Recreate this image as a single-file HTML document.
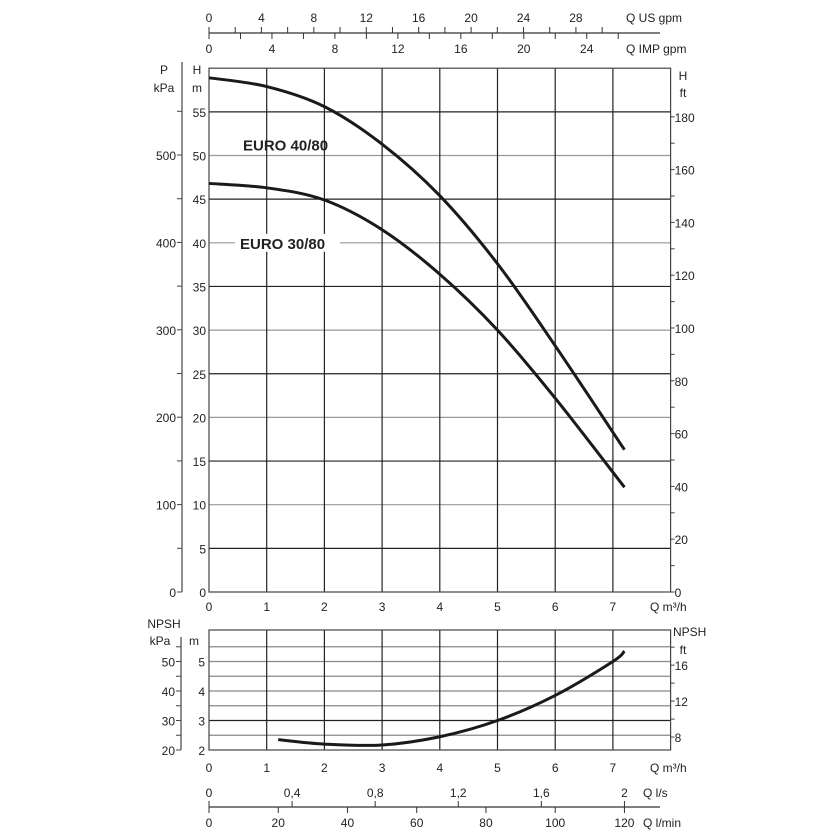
<!DOCTYPE html>
<html><head><meta charset="utf-8">
<style>
html,body{margin:0;padding:0;background:#fff;}
svg{display:block;font-family:"Liberation Sans",Arial,sans-serif;}
</style></head>
<body>
<svg id="chart" width="840" height="840" viewBox="0 0 840 840"></svg>
<script>
// ---- data ----
const qTicks = [0,1,2,3,4,5,6,7];
const hTicks = [0,5,10,15,20,25,30,35,40,45,50,55];
const pTicks = [0,100,200,300,400,500];
const ftTicks = [0,20,40,60,80,100,120,140,160,180];
const usgpmTicks = [0,4,8,12,16,20,24,28];
const impgpmTicks = [0,4,8,12,16,20,24];
const lsTicks = [0,0.4,0.8,1.2,1.6,2];
const lsLabels = ["0","0,4","0,8","1,2","1,6","2"];
const lminTicks = [0,20,40,60,80,100,120];
const npshTicks = [2,3,4,5];
const npshKpaTicks = [20,30,40,50];
const npshFtTicks = [8,12,16];
const q40 = [0,1,2,3,4,5,6,7.2];
const h40 = [58.9,57.9,55.6,51.3,45.4,37.6,28.2,16.3];
const q30 = [0,1,2,3,4,5,6,7.2];
const h30 = [46.8,46.3,44.9,41.5,36.4,30.0,22.2,12.0];
const qNpsh = [1.2,2,3,4,5,6,7,7.2];
const npsh = [2.35,2.2,2.17,2.45,3.0,3.85,5.0,5.35];

// ---- scales ----
const X0=209, XU=57.7;
const x = q => X0 + q*XU;
const yH = h => 592 - h*8.73;
const yP = p => 592 - p*0.874;
const yFt = f => 592 - f*2.64;
const yN = m => 750 - (m-2)*29.5;
const yNk = k => 750 - (k-20)*2.95;
const yNf = f => 750 - (f*0.3048-2)*29.5;

const svg = document.getElementById('chart');
const NS='http://www.w3.org/2000/svg';
function mk(tag, attrs, parent){
  const e=document.createElementNS(NS,tag);
  for(const k in attrs) e.setAttribute(k,attrs[k]);
  (parent||svg).appendChild(e); return e;
}
function line(x1,y1,x2,y2,stroke,w,name){
  const e=mk('line',{x1,y1,x2,y2,stroke,'stroke-width':w});
  
  
  return e;
}
function text(tx,tx_,ty,anchor,size,name,weight){
  const e=mk('text',{x:tx_,y:ty,'text-anchor':anchor||'middle','font-size':size||12,fill:'#222'});
  if(weight) e.setAttribute('font-weight',weight);
  e.textContent=tx;
  
  
  return e;
}
function smooth(xs,ys){
  const p=xs.map((v,i)=>[v,ys[i]]);
  let d='M'+p[0][0]+','+p[0][1];
  for(let i=0;i<p.length-1;i++){
    const p0=p[i-1]||p[i],p1=p[i],p2=p[i+1],p3=p[i+2]||p2;
    const c1=[p1[0]+(p2[0]-p0[0])/6,p1[1]+(p2[1]-p0[1])/6];
    const c2=[p2[0]-(p3[0]-p1[0])/6,p2[1]-(p3[1]-p1[1])/6];
    d+=` C${c1[0]},${c1[1]} ${c2[0]},${c2[1]} ${p2[0]},${p2[1]}`;
  }
  return d;
}
const XR = x(8);

// ---- main plot grid ----
hTicks.forEach((h,i)=>{ if(h>0) line(X0,yH(h),XR,yH(h), h%10===0?'#999':'#222',1.2,'h-gridline'); });
qTicks.forEach(q=>{ if(q>0) line(x(q),yH(60),x(q),yH(0),'#222',1.2,'q-gridline'); });
const fr=mk('rect',{x:X0,y:yH(60),width:XR-X0,height:yH(0)-yH(60),fill:'none',stroke:'#444','stroke-width':1.2});


hTicks.forEach(h=>text(String(h),0,yH(h)+5,'end',12,'h-tick-label').setAttribute('x',X0-3));
text('H',0,74,'middle',12,'h-axis-title').setAttribute('x',197);
text('m',0,92,'middle',12,'h-axis-unit').setAttribute('x',197);
qTicks.forEach(q=>text(String(q),0,611,'middle',12,'q-tick-label').setAttribute('x',x(q)));
text('Q m³/h',0,611,'start',12,'q-axis-title').setAttribute('x',650);
// P kPa axis
line(182,yP(0),182,62,'#444',1.2,'p-axis-line');
for(let p=0;p<=550;p+=50) line(177,yP(p),182,yP(p),'#444',1,'p-tick');
pTicks.forEach(p=>text(String(p),0,yP(p)+5,'end',12,'p-tick-label').setAttribute('x',176));
text('P',0,74,'middle',12,'p-axis-title').setAttribute('x',164);
text('kPa',0,92,'middle',12,'p-axis-unit').setAttribute('x',164);
// ft axis
for(let f=0;f<=180;f+=10) line(XR,yFt(f),XR+4,yFt(f),'#444',1,'ft-tick');
ftTicks.forEach(f=>text(String(f),0,yFt(f)+5,'start',12,'ft-tick-label').setAttribute('x',XR+4));
text('H',0,80,'middle',12,'ft-axis-title').setAttribute('x',683);
text('ft',0,97,'middle',12,'ft-axis-unit').setAttribute('x',683);

// ---- top axes ----
line(X0,33,660,33,'#333',1.2,'gpm-axis-line');
for(let g=0;g<=30;g+=2) line(x(g/4.403),27,x(g/4.403),33,'#333',1,'usgpm-tick');
for(let g=0;g<=26;g+=2) line(x(g/3.666),33,x(g/3.666),39,'#333',1,'impgpm-tick');
usgpmTicks.forEach(g=>text(String(g),0,22,'middle',12,'usgpm-tick-label').setAttribute('x',x(g/4.403)));
impgpmTicks.forEach(g=>text(String(g),0,53,'middle',12,'impgpm-tick-label').setAttribute('x',x(g/3.666)));
text('Q US gpm',0,22,'start',12,'usgpm-axis-title').setAttribute('x',626);
text('Q IMP gpm',0,53,'start',12,'impgpm-axis-title').setAttribute('x',626);

// ---- curves ----
const c40=mk('path',{d:smooth(q40.map(x),h40.map(yH)),fill:'none',stroke:'#1a1a1a','stroke-width':3});


const c30=mk('path',{d:smooth(q30.map(x),h30.map(yH)),fill:'none',stroke:'#1a1a1a','stroke-width':3});


text('EURO 40/80',0,yH(50)-5,'start',15,'label-euro-40-80','bold').setAttribute('x',243);
const b2=mk('rect',{x:235,y:yH(40)-9,width:105,height:18,fill:'#fff'});

text('EURO 30/80',0,yH(40)+6,'start',15,'label-euro-30-80','bold').setAttribute('x',240);

// ---- NPSH plot ----
for(let m=2.5;m<=5.5;m+=0.5) line(X0,yN(m),XR,yN(m), m===3?'#222':'#888',1.2,'npsh-gridline');
qTicks.forEach(q=>{ if(q>0) line(x(q),630,x(q),yN(2),'#222',1.2,'npsh-q-gridline'); });
const fr2=mk('rect',{x:X0,y:630,width:XR-X0,height:yN(2)-630,fill:'none',stroke:'#444','stroke-width':1.2});


npshTicks.forEach(m=>text(String(m),0,yN(m)+5,'end',12,'npsh-m-tick-label').setAttribute('x',X0-4));
text('m',0,645,'middle',12,'npsh-m-unit').setAttribute('x',194);
text('NPSH',0,628,'middle',12,'npsh-axis-title').setAttribute('x',164);
text('kPa',0,645,'middle',12,'npsh-kpa-unit').setAttribute('x',160);
line(181,yNk(20),181,637,'#444',1.2,'npsh-kpa-axis-line');
for(let k=20;k<=55;k+=5) line(176,yNk(k),181,yNk(k),'#444',1,'npsh-kpa-tick');
npshKpaTicks.forEach(k=>text(String(k),0,yNk(k)+5,'end',12,'npsh-kpa-tick-label').setAttribute('x',175));
for(let f=8;f<=18;f+=2) line(XR,yNf(f),XR+4,yNf(f),'#444',1,'npsh-ft-tick');
npshFtTicks.forEach(f=>text(String(f),0,yNf(f)+5,'start',12,'npsh-ft-tick-label').setAttribute('x',XR+4));
text('NPSH',0,636,'start',12,'npsh-ft-title').setAttribute('x',673);
text('ft',0,654,'middle',12,'npsh-ft-unit').setAttribute('x',683);
qTicks.forEach(q=>text(String(q),0,772,'middle',12,'npsh-q-tick-label').setAttribute('x',x(q)));
text('Q m³/h',0,772,'start',12,'npsh-q-axis-title').setAttribute('x',650);
const cn=mk('path',{d:smooth(qNpsh.map(x),npsh.map(yN)),fill:'none',stroke:'#1a1a1a','stroke-width':3});



// ---- bottom axes ----
line(X0,807,660,807,'#333',1.2,'flow-axis-line');
lsTicks.forEach(v=>line(x(v*3.6),801,x(v*3.6),807,'#333',1,'ls-tick'));
lminTicks.forEach(v=>line(x(v*0.06),807,x(v*0.06),813,'#333',1,'lmin-tick'));
lsTicks.forEach((v,i)=>text(lsLabels[i],0,797,'middle',12,'ls-tick-label').setAttribute('x',x(v*3.6)));
lminTicks.forEach(v=>text(String(v),0,827,'middle',12,'lmin-tick-label').setAttribute('x',x(v*0.06)));
text('Q l/s',0,797,'start',12,'ls-axis-title').setAttribute('x',643);
text('Q l/min',0,827,'start',12,'lmin-axis-title').setAttribute('x',643);
</script>
</body></html>
